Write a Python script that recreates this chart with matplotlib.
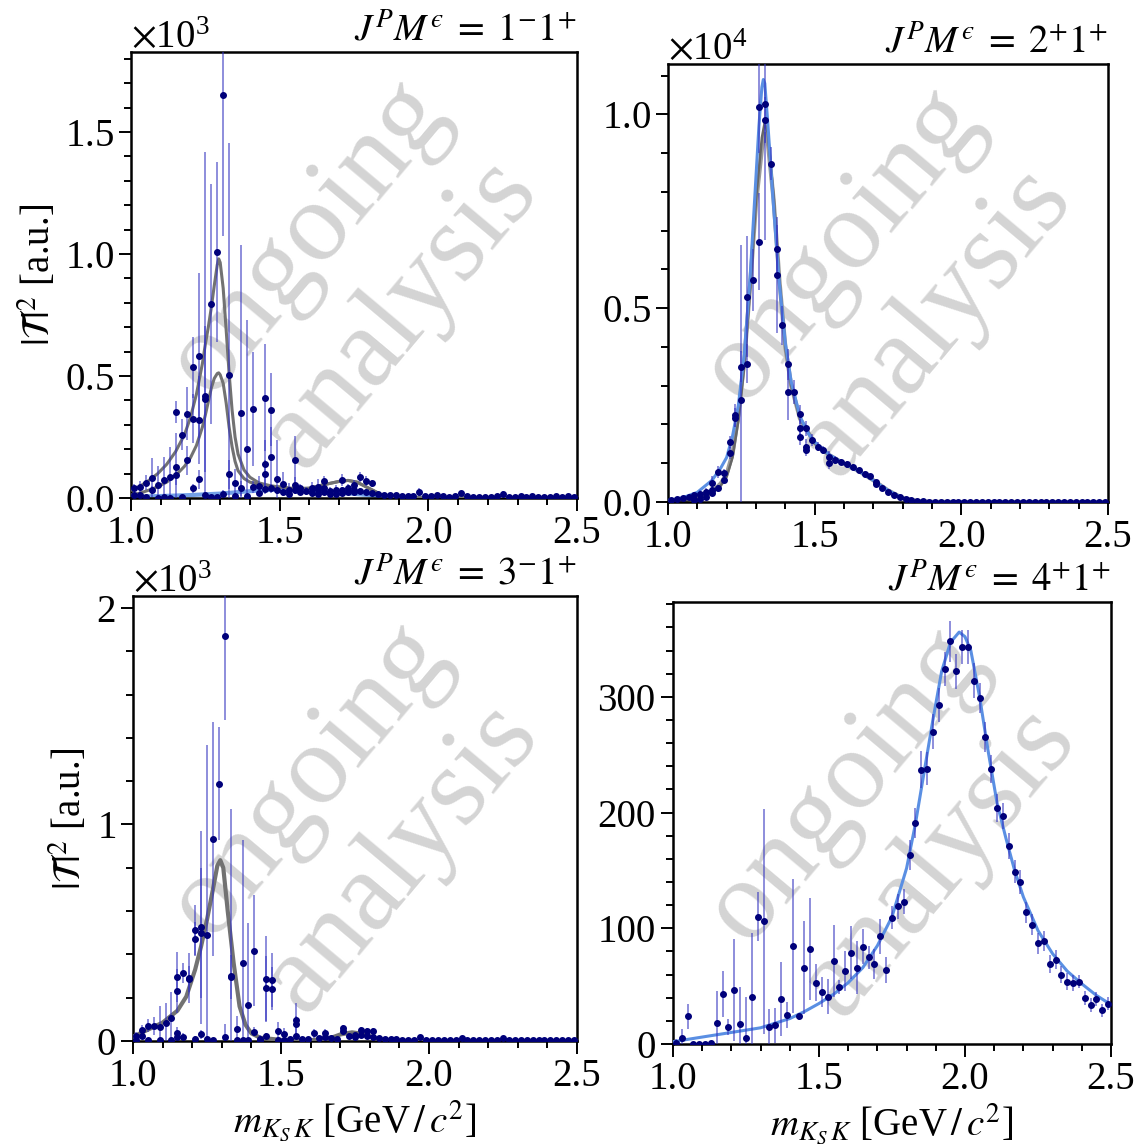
import numpy as np
import matplotlib.pyplot as plt
from matplotlib.ticker import MultipleLocator, ScalarFormatter

plt.rcParams['font.family'] = 'serif'
plt.rcParams['font.serif'] = ['Liberation Serif', 'DejaVu Serif']
plt.rcParams['mathtext.fontset'] = 'stix'

# bin centres of the mass spectrum (20 MeV bins)
mass = np.round(np.arange(1.01, 2.50, 0.02), 2)

# ---- J^P M^e = 1^-1^+ ----
p1_val = [39, 44, 63, 84, 53, 73, 87, 352, 260, 346, 536, 584, 420, 795, 1008,
          1652, 506, 60, 348, 201, 365, 49, 411, 362, 77, 58, 31, 155, 39, 29,
          39, 46, 69, 29, 33, 73, 39, 53, 87, 71, 60, 16, 14, 12, 11, 10, 9, 8,
          24, 8, 7, 12, 7, 6, 7, 19, 7, 6, 6, 5, 5, 8, 18, 6, 5, 7, 6, 9, 6, 5,
          5, 8, 6, 7, 5]
p1_err = [20, 25, 30, 80, 80, 95, 120, 45, 65, 110, 125, 340, 1000, 490, 370,
          580, 950, 60, 690, 530, 235, 40, 220, 150, 160, 50, 30, 100, 20, 15,
          25, 30, 20, 15, 20, 25, 20, 20, 20, 20, 15, 8, 8, 7, 7, 6, 6, 6, 15,
          6, 6, 8, 6, 5, 5, 10, 5, 5, 5, 5, 5, 6, 10, 5, 5, 5, 5, 6, 5, 5, 5, 6,
          5, 5, 5]
p1_xm = [1.01, 1.03, 1.07, 1.15, 1.15, 1.19, 1.21, 1.21, 1.23, 1.23, 1.25, 1.25,
         1.29, 1.31, 1.33, 1.37, 1.41, 1.45, 1.45, 1.45, 1.47, 1.47, 1.49, 1.53,
         1.55, 1.55, 1.57, 1.61, 1.63, 1.63, 1.65, 1.65, 1.67, 1.69, 1.71, 1.71,
         1.73, 1.75, 1.75, 1.77, 1.79, 1.81, 1.05, 1.09, 1.11, 1.13, 1.17, 1.27,
         1.35, 1.39, 1.43, 1.51]
p1_xv = [12, 12, 33, 128, 94, 155, 325, 39, 321, 76, 407, 12, 3, 16, 97, 39, 46,
         139, 97, 35, 169, 39, 33, 15, 55, 31, 26, 19, 33, 16, 39, 26, 16, 16, 33,
         19, 26, 33, 26, 30, 26, 19, 3, 2, 4, 2, 5, 4, 10, 8, 20, 25]
p1_xe = [8, 8, 15, 140, 40, 60, 100, 20, 180, 40, 300, 10, 10, 15, 60, 30, 25,
         100, 60, 20, 120, 20, 15, 10, 30, 15, 10, 10, 12, 8, 15, 10, 8, 8, 12, 8,
         10, 12, 10, 10, 10, 8, 5, 5, 5, 6, 8, 6, 8, 8, 10, 12]
p1_cx = [1.00, 1.03, 1.06, 1.09, 1.12, 1.15, 1.18, 1.20, 1.22, 1.24, 1.25, 1.26,
         1.27, 1.28, 1.29, 1.295, 1.30, 1.31, 1.32, 1.33, 1.34, 1.35, 1.36, 1.38,
         1.40, 1.43, 1.47, 1.50, 1.55, 1.60, 1.65, 1.70, 1.73, 1.76, 1.80, 1.84,
         1.88, 1.95, 2.50]
p1_fit_hi = [32, 48, 72, 100, 138, 190, 260, 330, 425, 550, 630, 700, 780, 870,
             955, 980, 965, 860, 690, 510, 360, 250, 180, 115, 85, 62, 50, 45, 38,
             40, 55, 68, 72, 65, 40, 15, 5, 1, 0]
p1_fit_lo = [12, 20, 32, 46, 65, 92, 130, 165, 215, 290, 340, 395, 450, 490, 510,
             513, 505, 470, 390, 290, 210, 150, 112, 80, 65, 55, 48, 45, 38, 40,
             55, 68, 72, 65, 40, 15, 5, 1, 0]
p1_bx = [1.00, 1.10, 1.20, 1.30, 1.40, 1.50, 1.55, 1.60, 1.70, 1.80, 1.85, 1.90,
         2.00, 2.50]
p1_blue = [5, 8, 12, 18, 28, 36, 36, 32, 22, 12, 6, 2, 0, 0]

# ---- J^P M^e = 2^+1^+ ----
p2_val = [46, 80, 115, 140, 175, 210, 250, 480, 770, 740, 1550, 2240, 3490,
          5290, 5720, 10200, 10270, 8730, 6540, 4560, 3560, 2840, 2260, 1900,
          1600, 1430, 1340, 1170, 1090, 1040, 970, 900, 820, 730, 660, 520, 370,
          270, 190, 120, 75, 45, 28, 18, 12, 9, 8, 7, 6, 6, 5, 5, 5, 4, 4, 4, 4,
          3, 3, 3, 3, 3, 3, 3, 3, 2, 2, 2, 2, 2, 2, 2, 2, 2, 2]
p2_err = [30, 40, 50, 60, 80, 100, 120, 180, 150, 120, 150, 300, 400, 1560, 800,
          1200, 3500, 430, 600, 500, 400, 300, 250, 200, 150, 120, 100, 150, 100,
          80, 80, 70, 70, 60, 60, 60, 50, 40, 35, 30, 25, 20, 15, 12, 10, 8, 8, 7,
          7, 6, 6, 6, 5, 5, 5, 5, 5, 5, 5, 5, 5, 5, 5, 5, 5, 5, 5, 5, 5, 5, 5, 5,
          5, 5, 5]
p2_xm = [1.09, 1.11, 1.13, 1.15, 1.15, 1.17, 1.19, 1.21, 1.23, 1.25, 1.27, 1.31,
         1.33, 1.37, 1.41, 1.45, 1.45, 1.47, 1.47, 1.55, 1.71]
p2_xv = [60, 90, 120, 300, 220, 350, 580, 1260, 2180, 2630, 3570, 6710, 9860,
         5850, 2840, 1900, 1680, 1430, 1340, 1000, 460]
p2_xe = [30, 40, 50, 80, 60, 90, 100, 150, 250, 4000, 500, 1250, 600, 1500, 730,
         250, 200, 200, 150, 150, 60]
p2_bx = [1.00, 1.05, 1.10, 1.15, 1.18, 1.20, 1.22, 1.24, 1.26, 1.28, 1.30, 1.31,
         1.32, 1.325, 1.33, 1.34, 1.35, 1.36, 1.38, 1.40, 1.42, 1.45, 1.48, 1.50,
         1.55, 1.60, 1.65, 1.70, 1.75, 1.80, 1.85, 1.90, 2.00, 2.50]
p2_blue = [40, 110, 250, 560, 880, 1150, 1700, 2500, 3800, 5800, 8400, 9700,
           10700, 10900, 10800, 9800, 8700, 7600, 5600, 4100, 3100, 2200, 1750,
           1550, 1220, 990, 800, 560, 300, 100, 25, 5, 0, 0]
p2_gx = [1.00, 1.05, 1.10, 1.15, 1.18, 1.20, 1.22, 1.24, 1.26, 1.28, 1.30, 1.32,
         1.33, 1.34, 1.36, 1.38, 1.40, 1.42, 1.45, 1.50, 1.55, 1.60, 1.65, 1.70,
         1.75, 1.80, 1.85, 1.90, 2.00, 2.50]
p2_grey_a = [10, 30, 80, 220, 420, 650, 1150, 2100, 3500, 5500, 7800, 9400, 9800,
             9500, 7900, 5700, 4000, 3000, 2150, 1520, 1210, 990, 800, 560, 300,
             100, 25, 5, 0, 0]
p2_grey_b = [15, 40, 100, 260, 480, 720, 1250, 2250, 3650, 5600, 7700, 9100,
             9500, 9300, 7800, 5700, 4000, 3000, 2150, 1520, 1210, 990, 800, 560,
             300, 100, 25, 5, 0, 0]

# ---- J^P M^e = 3^-1^+ ----
p3_val = [23, 51, 71, 69, 63, 85, 106, 295, 313, 290, 514, 525, 488, 934, 1188,
          1872, 302, 56, 360, 167, 417, 10, 287, 282, 48, 31, 8, 97, 10, 8, 35,
          12, 39, 15, 10, 59, 25, 30, 51, 46, 46, 12, 10, 8, 8, 6, 5, 5, 18, 5, 5,
          6, 5, 5, 5, 15, 5, 5, 5, 5, 5, 5, 15, 5, 5, 5, 5, 5, 5, 5, 5, 5, 5, 5, 5]
p3_err = [20, 25, 30, 40, 100, 90, 120, 116, 46, 116, 116, 447, 880, 540, 262,
          390, 770, 60, 570, 380, 255, 20, 200, 123, 40, 30, 10, 77, 10, 10, 20,
          10, 15, 10, 10, 15, 10, 10, 12, 12, 12, 8, 6, 6, 6, 5, 5, 5, 12, 5, 5, 5,
          5, 5, 5, 10, 5, 5, 5, 5, 5, 5, 10, 5, 5, 5, 5, 5, 5, 5, 5, 5, 5, 5, 5]
p3_xm = [1.03, 1.15, 1.15, 1.15, 1.17, 1.19, 1.21, 1.21, 1.23, 1.23, 1.25, 1.27,
         1.31, 1.33, 1.41, 1.45, 1.45, 1.47, 1.55, 1.55, 1.65, 1.71, 1.75, 1.77,
         1.79, 1.81, 1.01, 1.05, 1.09, 1.13, 1.35, 1.37, 1.39, 1.43, 1.49, 1.51]
p3_xv = [23, 231, 35, 20, 20, 285, 471, 10, 498, 31, 10, 5, 20, 296, 43, 244, 23,
         241, 77, 23, 20, 45, 20, 30, 25, 20, 5, 3, 4, 5, 3, 5, 4, 6, 3, 4]
p3_xe = [15, 100, 30, 15, 15, 60, 80, 15, 300, 20, 15, 10, 60, 100, 20, 150, 15,
         100, 40, 15, 10, 15, 10, 10, 10, 8, 5, 5, 5, 8, 8, 8, 8, 8, 5, 5]
p3_gx = [1.00, 1.05, 1.10, 1.15, 1.18, 1.21, 1.23, 1.25, 1.27, 1.285, 1.295,
         1.305, 1.32, 1.34, 1.36, 1.38, 1.40, 1.43, 1.50, 1.60, 1.67, 1.70, 1.74,
         1.78, 1.82, 1.86, 1.95, 2.50]
p3_grey = [20, 52, 85, 140, 205, 330, 437, 560, 700, 810, 835, 800, 600, 360,
           160, 75, 35, 15, 5, 3, 15, 30, 40, 32, 12, 3, 0, 0]

# ---- J^P M^e = 4^+1^+ ----
p4_val = [1, 5, 24, 0, 0, 0, 1, 18, 43, 15, 47, 17, 5, 41, 110, 106, 15, 16, 39,
          25, 85, 24, 66, 82, 53, 45, 41, 72, 49, 63, 79, 66, 84, 75, 69, 93, 64,
          109, 119, 123, 163, 191, 237, 238, 270, 293, 324, 348, 322, 343, 343,
          314, 299, 265, 238, 204, 197, 171, 149, 140, 114, 103, 87, 89, 69, 73,
          60, 54, 53, 54, 40, 34, 39, 29, 35]
p4_err = [3, 8, 11, 2, 2, 2, 2, 28, 20, 7, 44, 32, 36, 55, 21, 97, 15, 15, 32, 11,
          58, 3, 40, 44, 16, 13, 15, 31, 6, 17, 23, 23, 15, 10, 13, 15, 11, 10, 11,
          11, 13, 13, 16, 14, 15, 15, 15, 18, 15, 15, 15, 15, 13, 13, 12, 12, 11,
          11, 10, 10, 9, 9, 9, 9, 8, 8, 7, 7, 7, 6, 6, 6, 6, 6, 6]
p4_bx = [1.00, 1.10, 1.20, 1.30, 1.40, 1.45, 1.50, 1.55, 1.60, 1.65, 1.70, 1.75,
         1.80, 1.83, 1.86, 1.89, 1.92, 1.95, 1.98, 2.00, 2.02, 2.05, 2.08, 2.11,
         2.14, 2.17, 2.20, 2.25, 2.30, 2.35, 2.40, 2.45, 2.50]
p4_blue = [2, 6, 10, 14, 22, 28, 35, 43, 53, 66, 85, 110, 152, 190, 235, 280, 322,
           347, 356, 352, 340, 300, 252, 208, 178, 150, 127, 98, 78, 63, 52, 42, 34]

titles = ['$J^P M^{\u03f5}\\;=\\;1^{-}1^{+}$', '$J^P M^{\u03f5}\\;=\\;2^{+}1^{+}$',
          '$J^P M^{\u03f5}\\;=\\;3^{-}1^{+}$', '$J^P M^{\u03f5}\\;=\\;4^{+}1^{+}$']

FS = 28
PT = '#00007a'
ECOL = (0.2, 0.2, 0.75, 0.65)
GREY = '#727272'
BLUE = '#5a8fe3'

W, H = 1137, 1146
fig = plt.figure(figsize=(W / 100, H / 100), dpi=100)


def make_axes(l, r, t, b):
    return fig.add_axes([l / W, 1 - b / H, (r - l) / W, (b - t) / H])


def style(ax, ytop, major, minor, power=None):
    ax.set_xlim(1.0, 2.5)
    ax.set_ylim(0, ytop)
    ax.xaxis.set_major_locator(MultipleLocator(0.5))
    ax.xaxis.set_minor_locator(MultipleLocator(0.1))
    ax.yaxis.set_major_locator(MultipleLocator(major))
    ax.yaxis.set_minor_locator(MultipleLocator(minor))
    if power is not None:
        fmt = ScalarFormatter(useMathText=True)
        fmt.set_powerlimits((power, power))
        ax.yaxis.set_major_formatter(fmt)
    ax.tick_params(which='both', direction='out', labelsize=FS, width=1.4,
                   top=False, right=False)
    ax.tick_params(which='major', length=9)
    ax.tick_params(which='minor', length=5)
    ax.yaxis.get_offset_text().set_fontsize(FS)
    for s in ax.spines.values():
        s.set_linewidth(1.8)
    ax.text(0.5, 0.5, 'ongoing\nanalysis', transform=ax.transAxes, rotation=50,
            rotation_mode='anchor', ha='center', va='center', fontsize=82,
            color='0.83', zorder=0)


def points(ax, x, y, e):
    ax.errorbar(x, y, yerr=e, fmt='o', ms=4, color=PT, ecolor=ECOL,
                elinewidth=1.2, capsize=0, zorder=4)


ax1 = make_axes(131, 577, 52, 498)
ax2 = make_axes(668, 1108, 64, 502)
ax3 = make_axes(133, 577, 596, 1041)
ax4 = make_axes(673, 1111, 602, 1044)

style(ax1, 1828, 500, 100, power=3)
style(ax2, 11300, 5000, 1000, power=4)
style(ax3, 2055, 1000, 200, power=3)
style(ax4, 382, 100, 20)

# panel 1
ax1.plot(p1_bx, p1_blue, color=BLUE, lw=3, alpha=0.85, zorder=2)
ax1.plot(p1_cx, p1_fit_hi, color=GREY, lw=2.2, zorder=3)
ax1.plot(p1_cx, p1_fit_lo, color=GREY, lw=2.2, zorder=3)
points(ax1, mass, p1_val, p1_err)
points(ax1, p1_xm, p1_xv, p1_xe)

# panel 2
ax2.plot(p2_gx, p2_grey_b, color='#9a9a9a', lw=3, zorder=2)
ax2.plot(p2_gx, p2_grey_a, color='#666666', lw=1.8, zorder=2)
ax2.plot(p2_bx, p2_blue, color=BLUE, lw=2.2, zorder=3)
points(ax2, mass, p2_val, p2_err)
points(ax2, p2_xm, p2_xv, p2_xe)

# panel 3
ax3.plot(p3_gx, p3_grey, color=GREY, lw=3, zorder=3)
points(ax3, mass, p3_val, p3_err)
points(ax3, p3_xm, p3_xv, p3_xe)

# panel 4
ax4.plot(p4_bx, p4_blue, color=BLUE, lw=2.2, zorder=3)
points(ax4, mass, p4_val, p4_err)

for ax, t in zip([ax1, ax2, ax3, ax4], titles):
    ax.set_title(t, loc='right', fontsize=FS, pad=8)

for ax in (ax1, ax3):
    ax.set_ylabel(r'$|\mathcal{T}|^2$ [a.u.]', fontsize=FS)
for ax in (ax3, ax4):
    ax.set_xlabel(r'$m_{K_S\,K}$ [GeV$\,/\,c^2$]', fontsize=FS, labelpad=2)

fig.savefig('out.png', dpi=100)
